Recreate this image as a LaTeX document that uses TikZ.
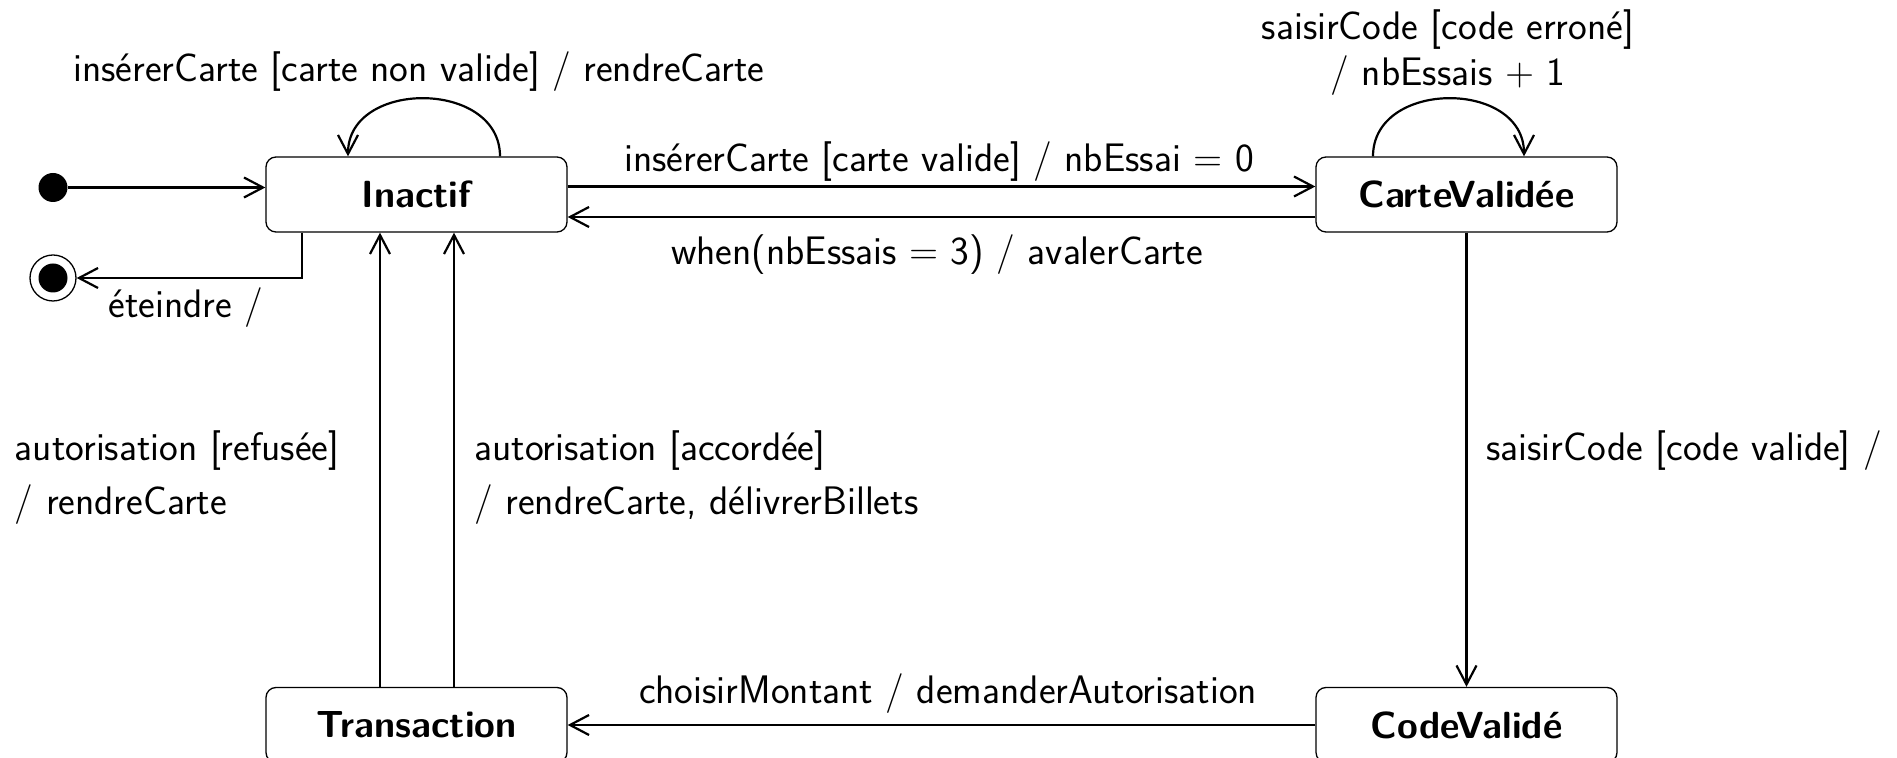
\documentclass[tikz,border=0pt]{standalone}
\usepackage{fontspec}
\usetikzlibrary{arrows.meta}
\begin{document}
\begin{tikzpicture}[x=0.5pt,y=-0.5pt,
  txt/.style={font=\sffamily\fontsize{19.9}{23}\selectfont, inner sep=0pt},
  state/.style={draw, line width=0.65pt, rounded corners=5pt,
    minimum width=150.5pt, minimum height=37.5pt, inner sep=0pt,
    font=\sffamily\bfseries\fontsize{18.9}{22}\selectfont},
  trans/.style={line width=1.1pt, -{Straight Barb[length=9.5pt,width=10pt,line width=1.1pt]}}]
\useasboundingbox (0,0) rectangle (1897,758);

% states
\node[state] (inactif) at (416.5,194.5) {Inactif};
\node[state] (cartevalidee) at (1466.5,194.5) {CarteValidée};
\node[state] (transaction) at (416.5,725) {Transaction};
\node[state] (codevalide) at (1466.5,725) {CodeValidé};

% pseudo-states
\node[circle, fill, minimum size=14.5pt, inner sep=0pt] (init) at (53,187.5) {};
\node[circle, draw, line width=0.65pt, minimum size=23pt, inner sep=0pt] (final) at (53,278) {};
\fill (final.center) circle (7.25pt);

% transitions
\draw[trans] (init) -- (init -| inactif.west);
\draw[trans] ([xshift=-57.25pt]inactif.south) |- (final);
\draw[trans] ([xshift=41.75pt]inactif.north) .. controls +(0,-77) and +(0,-77) .. ([xshift=-34.25pt]inactif.north);
\draw[trans] ([yshift=4pt]inactif.east) -- ([yshift=4pt]cartevalidee.west);
\draw[trans] ([yshift=-11.25pt]cartevalidee.west) -- ([yshift=-11.25pt]inactif.east);
\draw[trans] ([xshift=-46.75pt]cartevalidee.north) .. controls +(0,-77) and +(0,-77) .. ([xshift=28.75pt]cartevalidee.north);
\draw[trans] (cartevalidee) -- (codevalide);
\draw[trans] (codevalide) -- (transaction);
\draw[trans] ([xshift=-18.25pt]transaction.north) -- ([xshift=-18.25pt]inactif.south);
\draw[trans] ([xshift=18.75pt]transaction.north) -- ([xshift=18.75pt]inactif.south);

% labels
\node[txt] (lblloopA) at (419,71.5) {insérerCarte [carte non valide] / rendreCarte};
\node[txt] (lblok) at (939,162) {insérerCarte [carte valide] / nbEssai = 0};
\node[txt] (lblswallow) at (937,254.5) {when(nbEssais = 3) / avalerCarte};
\node[txt, align=center] (lblloopB) at (1448,52.5) {saisirCode [code erroné]\\[0pt]/ nbEssais + 1};
\node[txt, anchor=west] (lblcode) at (1486,450.5) {saisirCode [code valide] /};
\node[txt] (lblamount) at (948,694) {choisirMontant / demanderAutorisation};
\node[txt, anchor=west, align=left] (lblrefused) at (14.5,477.5) {autorisation [refusée]\\[4pt]/ rendreCarte};
\node[txt, anchor=west, align=left] (lblgranted) at (474,477.5) {autorisation [accordée]\\[4pt]/ rendreCarte, délivrerBillets};
\node[txt] (lbloff) at (186,307.5) {éteindre /};
\end{tikzpicture}
\end{document}
